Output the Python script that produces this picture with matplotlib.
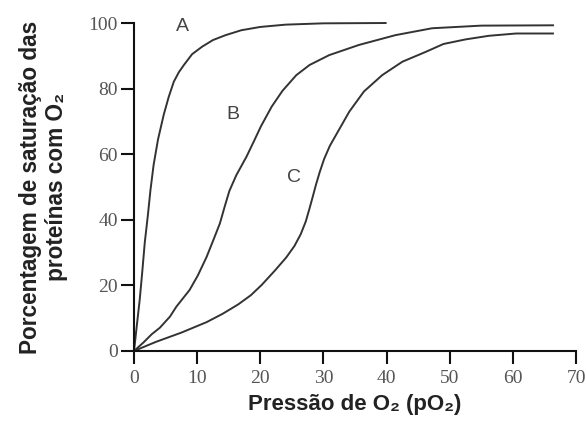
import matplotlib
matplotlib.use('Agg')
import matplotlib.pyplot as plt

# Curve values
a_x = [0, 0.4, 0.9, 1.3, 1.7, 2.2, 2.6, 3.1, 3.8, 4.7, 5.5, 6.3, 7.1, 7.9, 9.2,
       10.8, 12.5, 14.5, 17, 20, 24, 30, 40]
a_y = [0, 7, 15.6, 24, 33, 41.5, 49, 56.7, 64.5, 72, 77.5, 82.1, 85, 87.2, 90.5,
       92.8, 94.8, 96.3, 97.8, 98.8, 99.5, 99.9, 100]

b_x = [0, 1.5, 2.8, 4.1, 5.7, 6.7, 8.8, 10.1, 11.5, 12.6, 13.6, 14.4, 15.1, 16.2,
       17.8, 19, 20.1, 21.8, 23.5, 25.7, 27.8, 30.9, 35.6, 41.4, 47.2, 55, 66.5]
b_y = [0, 2.6, 5.1, 7.1, 10.5, 13.5, 18.6, 23, 28.7, 34, 38.9, 44.3, 48.8, 53.6,
       59.2, 64, 68.5, 74.5, 79.3, 84.1, 87.2, 90.2, 93.3, 96.3, 98.4, 99.2, 99.3]

c_x = [0, 3.5, 7.5, 11.5, 14, 16.5, 18.5, 20.2, 22.3, 24.1, 25.4, 26.4, 27.2, 27.8,
       28.3, 28.8, 29.4, 30.1, 31, 32, 34.1, 36.4, 39.3, 42.5, 46.2, 49, 52.5, 56.2,
       60.5, 66.5]
c_y = [0, 2.8, 5.6, 8.8, 11.3, 14.2, 17, 20.1, 24.5, 28.5, 32, 35.6, 39.5, 43.5,
       47, 50.6, 54.5, 58.5, 62.5, 65.9, 73, 79.1, 84.1, 88.2, 91.2, 93.6, 95, 96.1,
       96.8, 96.8]

labels = ['A', 'B', 'C']
label_pos = [(7.7, 99), (15.6, 72), (25.4, 53)]

x_ticks = [0, 10, 20, 30, 40, 50, 60, 70]
y_ticks = [0, 20, 40, 60, 80, 100]

fig = plt.figure(figsize=(5.86, 4.26), dpi=100)
ax = fig.add_axes([0.2287, 0.1761, 0.7543, 0.7699])

line_color = '#333333'
for xs, ys in [(a_x, a_y), (b_x, b_y), (c_x, c_y)]:
    ax.plot(xs, ys, color=line_color, lw=1.4, clip_on=False,
            solid_joinstyle='round', solid_capstyle='butt')

for lab, (lx, ly) in zip(labels, label_pos):
    ax.text(lx, ly, lab, ha='center', va='center', fontsize=14,
            family='Liberation Sans', color='#444444')

ax.set_xlim(0, 70)
ax.set_ylim(0, 100)
ax.set_xticks(x_ticks)
ax.set_yticks(y_ticks)
ax.spines['top'].set_visible(False)
ax.spines['right'].set_visible(False)
for s in ['left', 'bottom']:
    ax.spines[s].set_linewidth(1.5)
    ax.spines[s].set_color('#111111')
ax.tick_params(length=9.5, width=1.5, color='#111111', labelcolor='#555555',
               labelsize=14)
ax.tick_params(axis='y', pad=2)
ax.tick_params(axis='x', pad=4)
for t in ax.get_xticklabels() + ax.get_yticklabels():
    t.set_family('Liberation Serif')

ax.set_xlabel('Pressão de O\u2082 (pO\u2082)', fontsize=16, fontweight='bold',
              family='Liberation Sans', color='#222222', labelpad=5)
ax.set_ylabel('Porcentagem de saturação das\nproteínas com O\u2082', fontsize=16.3,
              fontweight='bold', family='Liberation Sans', color='#222222',
              labelpad=15, linespacing=1.15)

fig.savefig('out.png', dpi=100)
